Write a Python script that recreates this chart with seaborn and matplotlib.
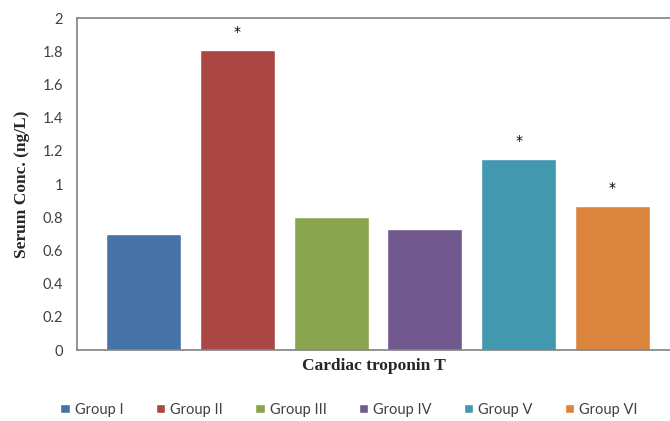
import matplotlib
matplotlib.use('Agg')
import matplotlib.pyplot as plt
import seaborn as sns
import pandas as pd

# chart data
groups = ['Group I', 'Group II', 'Group III', 'Group IV', 'Group V', 'Group VI']
conc = [0.70, 1.81, 0.80, 0.73, 1.15, 0.87]
significant = [False, True, False, False, True, True]
colors = ['#4572A7', '#AA4643', '#89A54E', '#71588F', '#4198AF', '#DB843D']
yticks = [0, 0.2, 0.4, 0.6, 0.8, 1, 1.2, 1.4, 1.6, 1.8, 2]
ytick_labels = ['0', '0.2', '0.4', '0.6', '0.8', '1', '1.2', '1.4', '1.6', '1.8', '2']

df = pd.DataFrame({'group': groups, 'conc': conc})

sns.set_style('white')
plt.rcParams['font.family'] = ['Lato', 'DejaVu Sans']

fig = plt.figure(figsize=(6.7, 4.21), dpi=100)
ax = fig.add_axes([0.1149, 0.1686, 0.885, 0.7884])

sns.barplot(data=df, x='group', y='conc', hue='group', palette=colors,
            width=0.8, dodge=False, saturation=1, legend=True, ax=ax)

# significance marks
for i, (v, s) in enumerate(zip(conc, significant)):
    if s:
        ax.text(i, v + 0.065, '*', ha='center', va='bottom', fontsize=10,
                color='black', family=['DejaVu Sans'])

ax.set_xlim(-0.709, 5.613)
ax.set_ylim(0, 2)
ax.set_yticks(yticks)
ax.set_yticklabels(ytick_labels, fontsize=10.5, color='#404040')
ax.set_xticks([])
ax.tick_params(axis='y', length=0, pad=10)

ax.set_ylabel('Serum Conc. (ng/L)', fontsize=12.5, fontweight='bold',
              family='Liberation Serif', labelpad=9)
ax.set_xlabel('Cardiac troponin T', fontsize=12.5, fontweight='bold',
              family='Liberation Serif', labelpad=6)

for side in ['left', 'bottom', 'top']:
    ax.spines[side].set_color('#808080')
    ax.spines[side].set_linewidth(1.2)
ax.spines['right'].set_visible(False)

sns.move_legend(ax, 'lower center', bbox_to_anchor=(0.459, -0.24),
                ncol=6, frameon=False, title=None, fontsize=10.5,
                handlelength=0.65, handleheight=0.65, handletextpad=0.35,
                columnspacing=2.2)
for t in ax.get_legend().get_texts():
    t.set_color('#404040')

fig.savefig('out.png', dpi=100)
